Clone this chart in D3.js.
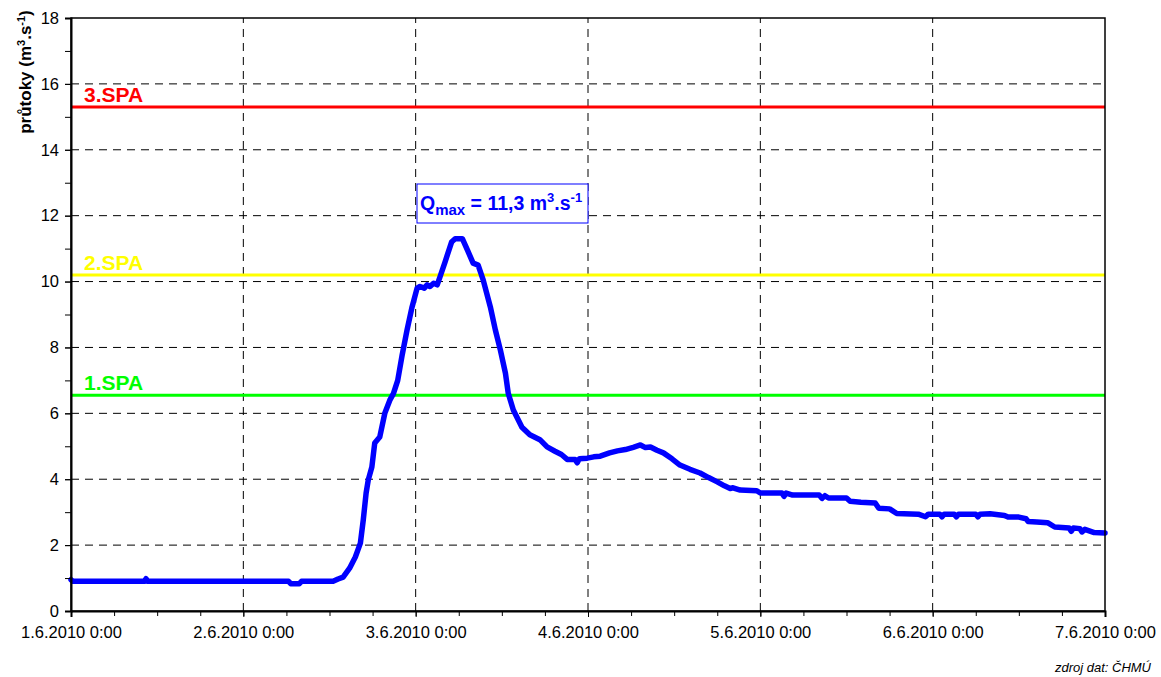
<!DOCTYPE html>
<html>
<head>
<meta charset="utf-8">
<script src="https://cdn.jsdelivr.net/npm/d3@7"></script>
<style>
  body { margin: 0; background: #fff; }
  text { font-family: Arial, "Liberation Sans", sans-serif; }
</style>
</head>
<body>
<svg id="chart" width="1161" height="677"></svg>
<script>
// hours after 1.6.2010 0:00 and discharge (m3/s)
var hours = [0, 0.3, 10.2, 10.45, 10.7, 30.3, 30.6, 31.8, 32.1, 36.5, 37.2, 37.9, 38.8,
  39.6, 40.3, 40.7, 41.1, 41.4, 41.9, 42.3, 43.0, 43.7, 44.4, 44.9, 45.5, 46.1, 46.8, 47.5, 48.2,
  48.6, 49.2, 49.6, 50.0, 50.5, 51.0,
  51.4, 52.1, 53.0, 53.5, 54.5, 55.2, 56.0, 56.7, 57.4, 58.4, 59.1, 59.8, 60.5, 60.9, 61.6, 62.8, 63.9,
  65.3, 66.3, 67.4, 68.3, 69.1, 70.2, 70.5, 70.8, 71.9, 72.8, 73.7, 75.0, 76.1, 77.2, 78.3, 79.3, 80.0, 80.7, 81.6, 82.5,
  83.7, 84.8, 86.2, 87.6, 88.8, 90.0, 91.0, 91.8, 92.2, 93.2, 95.5, 96.0, 99.0, 99.3, 99.6, 100.5,
  104.2, 104.6, 105.0, 105.5, 108.0, 108.5, 110.0, 112.0, 112.5, 114.0, 115.0,
  118.0, 119.0, 119.4, 121.0, 121.3, 121.6, 123.0, 123.3, 123.6, 126.0, 126.3, 126.6,
  128.0, 130.0, 130.5, 132.0, 133.0, 133.3, 134.5, 136.0, 137.0, 139.0, 139.3, 139.6,
  140.5, 140.8, 141.2, 142.5, 144.0];
var flow = [0.95, 0.9, 0.9, 0.98, 0.9, 0.9, 0.83, 0.83, 0.9, 0.9, 0.97, 1.03, 1.3,
  1.64, 2.06, 2.76, 3.58, 3.98, 4.37, 5.1, 5.28, 6.0, 6.4, 6.6, 7.0, 7.75, 8.53, 9.23, 9.8,
  9.85, 9.8, 9.9, 9.85, 9.95, 9.9,
  10.15, 10.6, 11.2, 11.3, 11.3, 10.96, 10.56, 10.5, 10.05, 9.23, 8.53, 7.92, 7.22, 6.6, 6.1, 5.58, 5.35,
  5.2, 4.98, 4.85, 4.75, 4.6, 4.6, 4.5, 4.62, 4.64, 4.68, 4.7, 4.8, 4.86, 4.9, 4.97, 5.04, 4.96, 4.98, 4.88, 4.8,
  4.62, 4.43, 4.3, 4.19, 4.05, 3.92, 3.8, 3.72, 3.74, 3.67, 3.65, 3.58, 3.58, 3.48, 3.58, 3.52,
  3.52, 3.42, 3.5, 3.43, 3.43, 3.33, 3.3, 3.28, 3.12, 3.1, 2.96,
  2.94, 2.86, 2.94, 2.94, 2.86, 2.94, 2.94, 2.86, 2.94, 2.94, 2.86, 2.94,
  2.95, 2.9, 2.85, 2.85, 2.8, 2.72, 2.7, 2.68, 2.55, 2.52, 2.42, 2.52,
  2.5, 2.4, 2.48, 2.38, 2.37];

var spaNames = ["1.SPA", "2.SPA", "3.SPA"];
var spaValues = [6.55, 10.2, 15.3];
var spaColors = ["#00ff00", "#ffff00", "#ff0000"];

var yTicks = [0, 2, 4, 6, 8, 10, 12, 14, 16, 18];
var startDate = new Date(2010, 5, 1, 0, 0);
var endDate = new Date(2010, 5, 7, 0, 0);

var svg = d3.select('#chart');
var margin = { left: 71, right: 56, top: 18, bottom: 66 };
var W = 1161, H = 677;

var x = d3.scaleTime().domain([startDate, endDate]).range([margin.left, W - margin.right]);
var y = d3.scaleLinear().domain([0, 18]).range([H - margin.bottom, margin.top]);

// fractional hours, so no d3.timeHour.offset here (it rounds)
var data = hours.map(function(h, i) {
  return { t: new Date(startDate.getTime() + h * 3600000), v: flow[i] };
});

var dayTicks = d3.timeDay.range(startDate, d3.timeDay.offset(endDate, 1));
var minorX = d3.timeHour.every(6).range(startDate, d3.timeHour.offset(endDate, 1));
var minorY = d3.range(0, 19, 1);

// grid
var grid = svg.append('g');
grid.selectAll('.gx').data(dayTicks.slice(1, -1)).enter().append('line')
  .attr('x1', function(d) { return x(d); }).attr('x2', function(d) { return x(d); })
  .attr('y1', y(0)).attr('y2', y(18))
  .attr('stroke', '#000').attr('stroke-width', 1).attr('stroke-dasharray', '8,6');
grid.selectAll('.gy').data(yTicks.slice(1, -1)).enter().append('line')
  .attr('x1', x(startDate)).attr('x2', x(endDate))
  .attr('y1', function(d) { return y(d); }).attr('y2', function(d) { return y(d); })
  .attr('stroke', '#000').attr('stroke-width', 1).attr('stroke-dasharray', '8,6');

// SPA lines
spaValues.forEach(function(v, i) {
  svg.append('line')
    .attr('x1', x(startDate)).attr('x2', x(endDate))
    .attr('y1', y(v)).attr('y2', y(v))
    .attr('stroke', spaColors[i]).attr('stroke-width', 3);
  svg.append('text')
    .attr('x', 84).attr('y', y(v) - 5)
    .attr('fill', spaColors[i]).attr('font-size', 21).attr('font-weight', 'bold')
    .text(spaNames[i]);
});

// hydrograph
var line = d3.line().x(function(d) { return x(d.t); }).y(function(d) { return y(d.v); });
svg.append('path').datum(data)
  .attr('d', line)
  .attr('fill', 'none').attr('stroke', '#0000ff').attr('stroke-width', 5.5)
  .attr('stroke-linejoin', 'round').attr('stroke-linecap', 'round');

// frame
svg.append('rect')
  .attr('x', x(startDate)).attr('y', y(18))
  .attr('width', x(endDate) - x(startDate)).attr('height', y(0) - y(18))
  .attr('fill', 'none').attr('stroke', '#000').attr('stroke-width', 1.5);

// axes
var xAxis = d3.axisBottom(x).tickValues(dayTicks)
  .tickFormat(d3.timeFormat('%-d.%-m.%Y %-H:%M')).tickSize(6).tickPadding(9);
var gx = svg.append('g').attr('transform', 'translate(0,' + y(0) + ')').call(xAxis);
svg.append('g').attr('transform', 'translate(0,' + y(0) + ')')
  .call(d3.axisBottom(x).tickValues(minorX).tickFormat('').tickSize(5))
  .select('.domain').remove();

var yAxis = d3.axisLeft(y).tickValues(yTicks).tickSize(6).tickPadding(6);
var gy = svg.append('g').attr('transform', 'translate(' + x(startDate) + ',0)').call(yAxis);
svg.append('g').attr('transform', 'translate(' + x(startDate) + ',0)')
  .call(d3.axisLeft(y).tickValues(minorY).tickFormat('').tickSize(6))
  .select('.domain').remove();

[gx, gy].forEach(function(g) {
  g.select('.domain').attr('stroke-width', 2);
  g.selectAll('text').attr('font-size', 16.5).attr('fill', '#000')
    .style('font-family', 'Arial, "Liberation Sans", sans-serif');
});

// y label
var yl = svg.append('text')
  .attr('transform', 'translate(31,72) rotate(-90)')
  .attr('text-anchor', 'middle').attr('font-size', 17).attr('font-weight', 'bold');
yl.append('tspan').text('průtoky (m');
yl.append('tspan').attr('dy', -6).attr('font-size', 11).text('3');
yl.append('tspan').attr('dy', 6).text('.s');
yl.append('tspan').attr('dy', -6).attr('font-size', 11).text('-1');
yl.append('tspan').attr('dy', 6).text(')');

// Qmax box
svg.append('rect')
  .attr('x', 417).attr('y', 184).attr('width', 171).attr('height', 39)
  .attr('fill', '#fff').attr('stroke', '#0000ff').attr('stroke-width', 1);
var q = svg.append('text').attr('x', 420).attr('y', 210)
  .attr('fill', '#0000ff').attr('font-size', 19.5).attr('font-weight', 'bold');
q.append('tspan').text('Q');
q.append('tspan').attr('dy', 5).attr('font-size', 15).text('max');
q.append('tspan').attr('dy', -5).text(' = 11,3 m');
q.append('tspan').attr('dy', -8).attr('font-size', 13).text('3');
q.append('tspan').attr('dy', 8).text('.s');
q.append('tspan').attr('dy', -8).attr('font-size', 13).text('-1');

// source
svg.append('text').attr('x', 1151).attr('y', 672)
  .attr('text-anchor', 'end').attr('font-size', 13).attr('font-style', 'italic')
  .text('zdroj dat: ČHMÚ');
</script>
</body>
</html>
